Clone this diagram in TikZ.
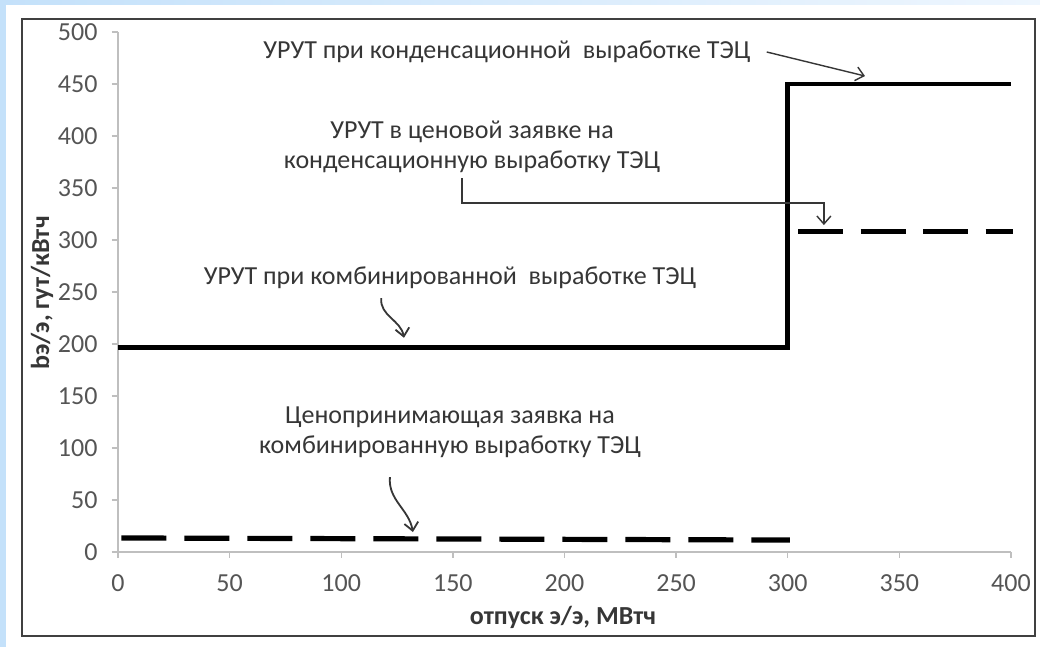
\documentclass[tikz,border=0pt]{standalone}
\usepackage{fontspec}
\setmainfont{Carlito}
\usepackage{xcolor}
\usepackage{tikz}
\usetikzlibrary{arrows.meta}
\definecolor{axisgray}{HTML}{BFBFBF}
\definecolor{ticktext}{HTML}{555555}
\definecolor{notetext}{HTML}{363636}
\definecolor{stripblue}{HTML}{C4E1FA}
\definecolor{stripfade}{HTML}{EEF6FE}

\begin{document}
\begin{tikzpicture}[x=1.11625pt, y=0.52pt,
  every node/.style={font=\fontsize{13}{15}\selectfont},
  note/.style={text=notetext, align=center, inner sep=0pt},
  ticklabel/.style={text=ticktext, inner sep=0pt},
  axistitle/.style={text=notetext, font=\fontsize{13}{15}\selectfont\bfseries, inner sep=0pt},
  curve/.style={line width=2.4pt, line join=miter},
  bid/.style={line width=2.6pt, dash pattern=on 22.5pt off 9pt},
  pointer/.style={draw=notetext, line width=0.7pt, -{Straight Barb[length=4pt,width=7pt]}}]
\useasboundingbox (-52.86,-91.35) rectangle (413.0,530.8);
\fill[white] (-52.86,-91.35) rectangle (413.0,530.8);
\fill[stripblue] (-52.86,-91.35) rectangle (-50.2,530.8);
\shade[left color=stripblue, right color=stripfade] (-52.86,526) rectangle (413.0,530.8);
\draw[line width=0.75pt, draw=black!75] (-43.0,-80.8) rectangle (410.8,512.5);
% axes
\draw[axisgray, line width=0.75pt] (0,500) -- (0,0) -- (400,0);
\foreach \y in {0,50,...,500}{
  \draw[axisgray, line width=0.75pt] (-2.7,\y) -- (0,\y);
  \node[ticklabel, anchor=east] (ytick\y) at (-9,\y) {\y};
}
\foreach \x in {0,50,...,400}{
  \draw[axisgray, line width=0.75pt] (\x,0) -- (\x,-5.8);
  \node[ticklabel] (xtick\x) at (\x,-29.8) {\x};
}
\node[axistitle, rotate=90] (ytitle) at (-34,249) {bэ/э, гут/кВтч};
\node[axistitle] (xtitle) at (199.3,-62.5) {отпуск э/э, МВтч};
% data
\draw[curve] (0,197) -- (300,197) -- (300,450) -- (400,450);
\draw[bid] (1.5,13.5) -- (301,11.5);
\draw[bid, dash pattern=on 22.5pt off 8.75pt] (304.6,308) -- (400.9,308);
% notes
\node[note] (condlabel) at (174.2,480.8) {УРУТ при конденсационной\ \ выработке ТЭЦ};
\coordinate (condtip) at (334.6,457.7);
\draw[pointer] ([xshift=8pt]condlabel.east) -- (condtip);
\node[note] (bidlabel) at (158.6,389.4) {УРУТ в ценовой заявке на\\конденсационную выработку ТЭЦ};
\coordinate (bidfoot) at (154.1,359.6);
\coordinate (bidtip) at (316.2,314.4);
\draw[pointer] (bidfoot) -- ++(0,-24) -| (bidtip);
\node[note] (comblabel) at (148.7,263.5) {УРУТ при комбинированной\ \ выработке ТЭЦ};
\coordinate (combfoot) at (117.9,244.2);
\coordinate (combtip) at (128.1,206);
\draw[pointer, line width=0.9pt] (combfoot) to[out=-95, in=100] (combtip);
\node[note] (takerlabel) at (148.7,115.4) {Ценопринимающая заявка на\\комбинированную выработку ТЭЦ};
\coordinate (takerfoot) at (121.8,72.1);
\coordinate (takertip) at (132.1,19.2);
\draw[pointer, line width=0.9pt] (takerfoot) to[out=-95, in=100] (takertip);
\end{tikzpicture}
\end{document}
